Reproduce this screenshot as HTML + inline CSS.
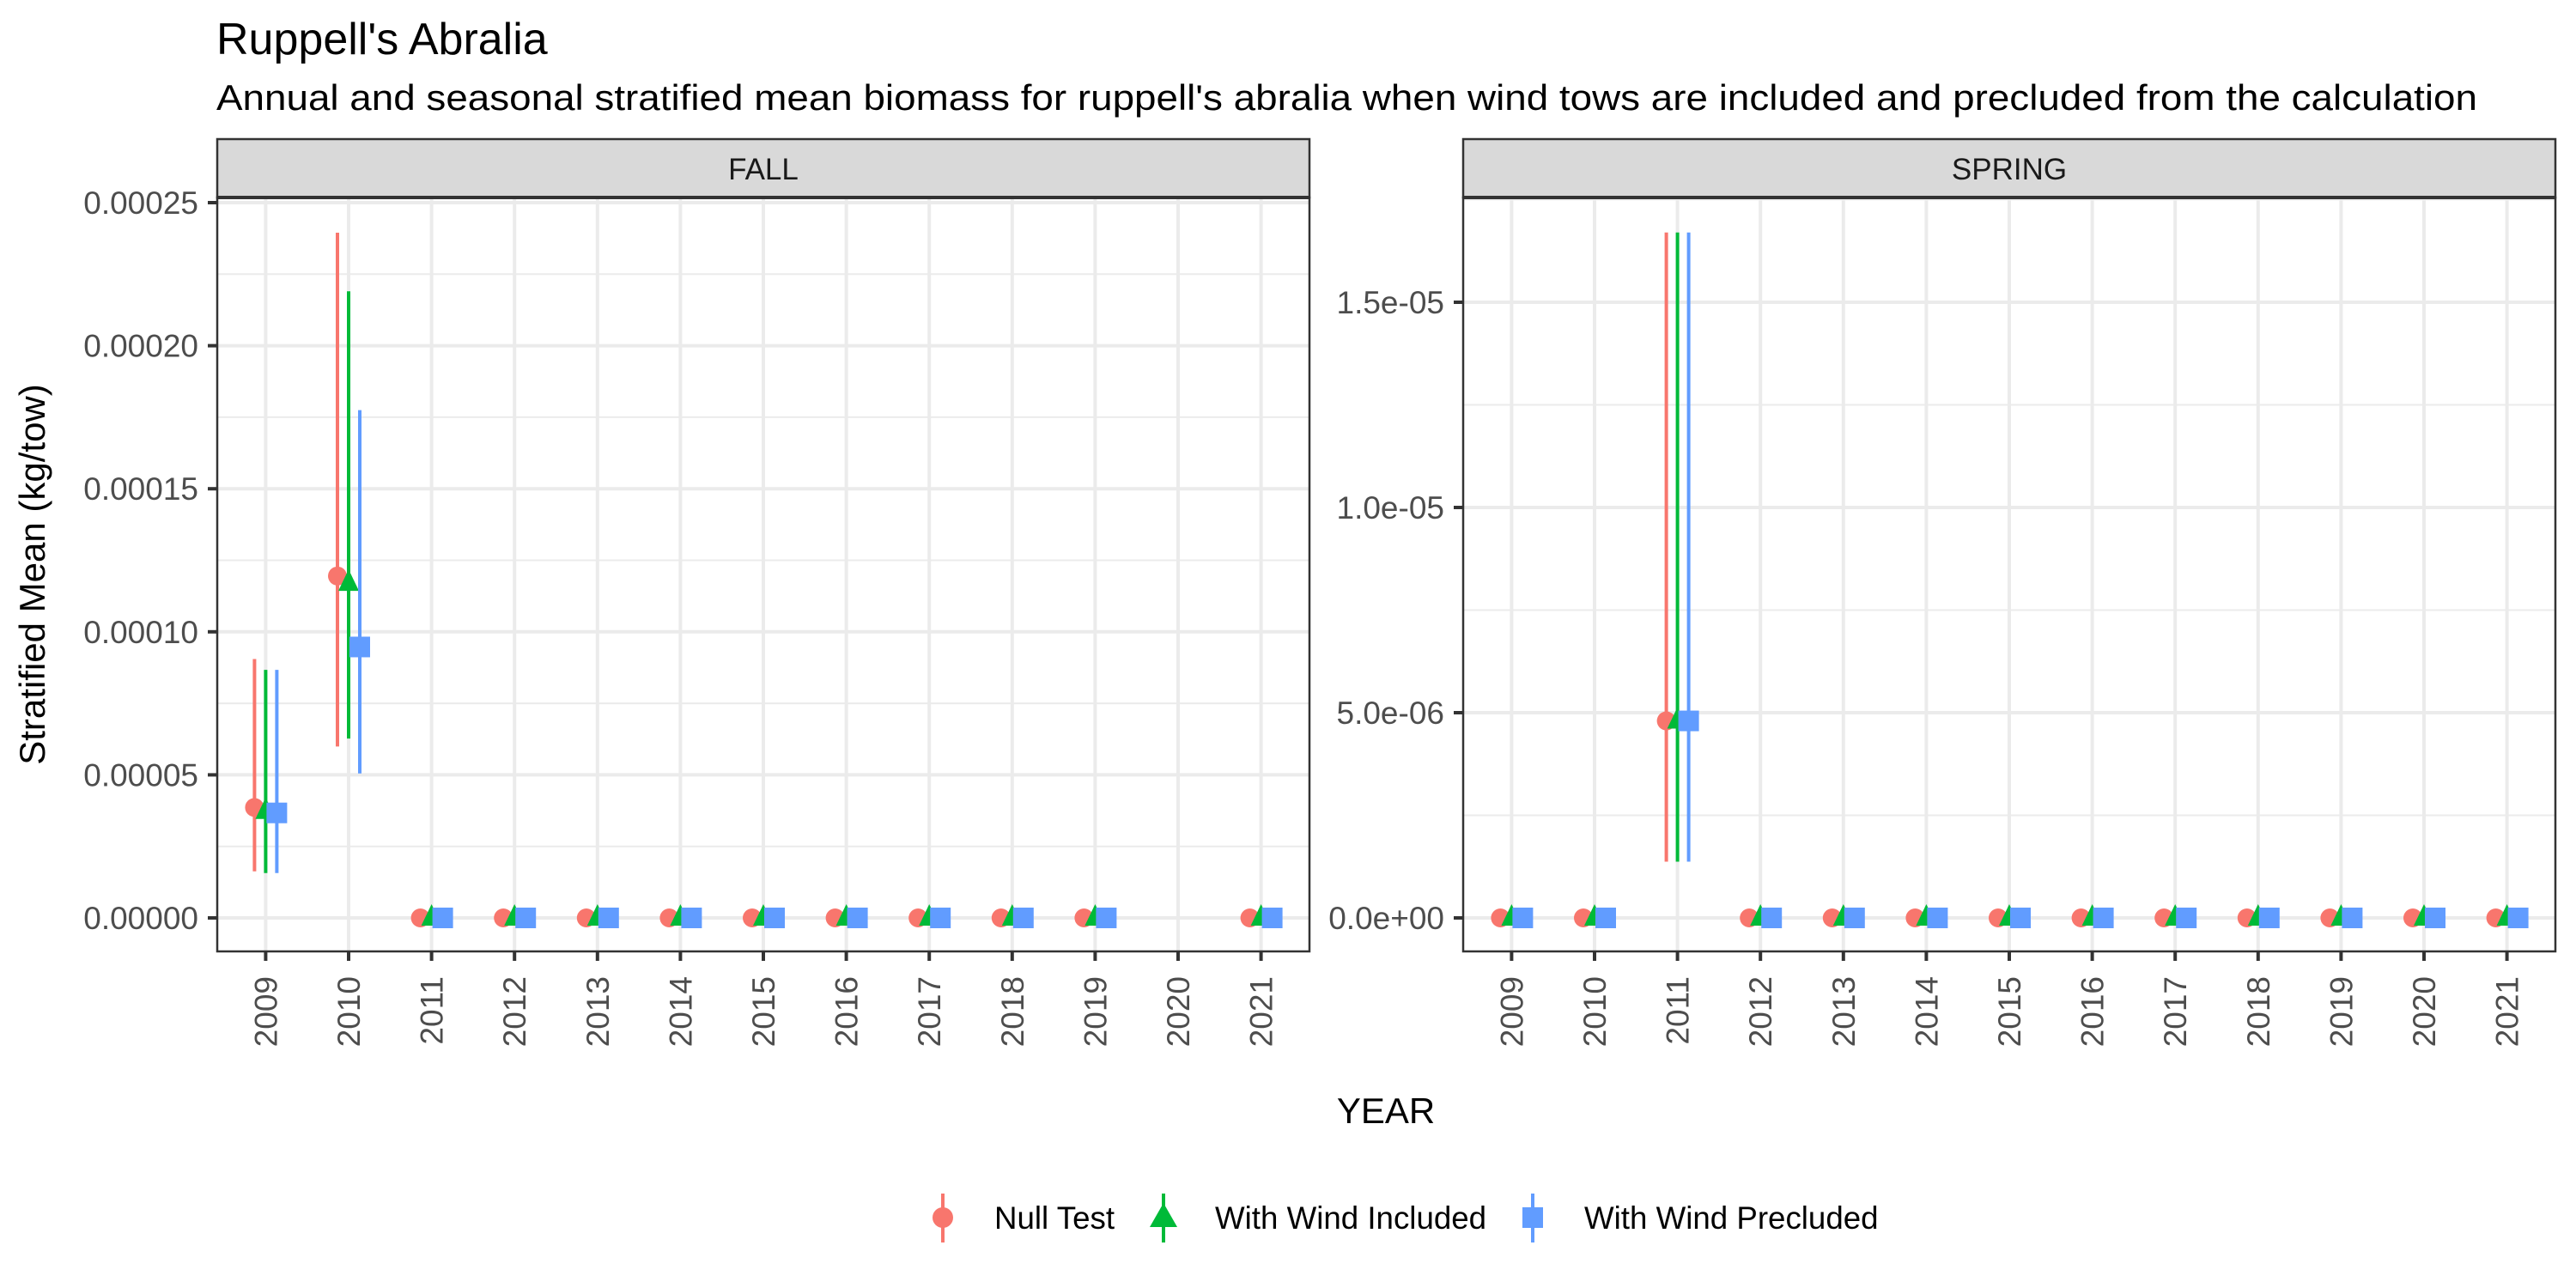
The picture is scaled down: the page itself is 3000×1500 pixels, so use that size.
<!DOCTYPE html>
<html><head><meta charset="utf-8"><style>
html,body{margin:0;padding:0;background:#fff;}
svg{display:block;font-family:"Liberation Sans",Arial,sans-serif;}
</style></head><body>
<svg id="chart" width="3000" height="1500" viewBox="0 0 3000 1500" xmlns="http://www.w3.org/2000/svg">
<rect x="0" y="0" width="3000" height="1500" fill="#fff"/>
<text x="252" y="63" font-size="52" fill="#000">Ruppell's Abralia</text>
<text x="252" y="128" font-size="42" fill="#000" textLength="2633" lengthAdjust="spacingAndGlyphs">Annual and seasonal stratified mean biomass for ruppell's abralia when wind tows are included and precluded from the calculation</text>
<text transform="translate(52,669) rotate(-90)" text-anchor="middle" font-size="42" fill="#000">Stratified Mean (kg/tow)</text>
<text x="1614" y="1308" text-anchor="middle" font-size="42" fill="#000">YEAR</text>
<g id="panels"></g>
<g id="legend"></g>
</svg>
<script>
const years = [2009,2010,2011,2012,2013,2014,2015,2016,2017,2018,2019,2020,2021];
const seriesNames = ["Null Test","With Wind Included","With Wind Precluded"];
// FALL data (null = missing)
const fallNull     = [0.0000386,0.0001195,0,0,0,0,0,0,0,0,0,null,0];
const fallNullLo   = [0.0000163,0.0000599,0,0,0,0,0,0,0,0,0,null,0];
const fallNullHi   = [0.0000905,0.0002395,0,0,0,0,0,0,0,0,0,null,0];
const fallIncl     = [0.0000373,0.000117,0,0,0,0,0,0,0,0,0,null,0];
const fallInclLo   = [0.0000157,0.0000627,0,0,0,0,0,0,0,0,0,null,0];
const fallInclHi   = [0.0000867,0.000219,0,0,0,0,0,0,0,0,0,null,0];
const fallPrec     = [0.0000367,0.0000947,0,0,0,0,0,0,0,0,0,null,0];
const fallPrecLo   = [0.0000157,0.0000505,0,0,0,0,0,0,0,0,0,null,0];
const fallPrecHi   = [0.0000867,0.0001775,0,0,0,0,0,0,0,0,0,null,0];
// SPRING data
const springNull   = [0,0,4.8e-6,0,0,0,0,0,0,0,0,0,0];
const springNullLo = [0,0,1.37e-6,0,0,0,0,0,0,0,0,0,0];
const springNullHi = [0,0,1.67e-5,0,0,0,0,0,0,0,0,0,0];
const springIncl   = [0,0,4.8e-6,0,0,0,0,0,0,0,0,0,0];
const springInclLo = [0,0,1.37e-6,0,0,0,0,0,0,0,0,0,0];
const springInclHi = [0,0,1.67e-5,0,0,0,0,0,0,0,0,0,0];
const springPrec   = [0,0,4.8e-6,0,0,0,0,0,0,0,0,0,0];
const springPrecLo = [0,0,1.37e-6,0,0,0,0,0,0,0,0,0,0];
const springPrecHi = [0,0,1.67e-5,0,0,0,0,0,0,0,0,0,0];
const fallTicks = [0,0.00005,0.0001,0.00015,0.0002,0.00025];
const fallTickLabels = ["0.00000","0.00005","0.00010","0.00015","0.00020","0.00025"];
const springTicks = [0,5e-6,1e-5,1.5e-5];
const springTickLabels = ["0.0e+00","5.0e-06","1.0e-05","1.5e-05"];

const NS="http://www.w3.org/2000/svg";
const colors=["#F8766D","#00BA38","#619CFF"];
function mk(tag,attrs,parent){const e=document.createElementNS(NS,tag);for(const k in attrs)e.setAttribute(k,attrs[k]);parent.appendChild(e);return e;}
const panelsG=document.getElementById('panels');

function drawPanel(cfg){
  const g=mk('g',{},panelsG);
  
  
  const L=cfg.left,R=cfg.right,T=230,B=1108,y0=1069;
  const x=i=>(L+R)/2+(i-6)*96.6;
  const y=v=>y0-v*cfg.pxPerUnit;
  mk('rect',{x:L,y:T,width:R-L,height:B-T,fill:'#fff'},g);
  for(let k=0;k<cfg.ticks.length;k++){
    const mv=cfg.ticks[k]+(cfg.ticks[1]-cfg.ticks[0])/2;
    const yy=y(mv); if(yy>T&&yy<B){const l=mk('line',{x1:L,x2:R,y1:yy,y2:yy,stroke:'#ebebeb','stroke-width':2},g);
    
    }
  }
  cfg.ticks.forEach((t,k)=>{const yy=y(t);
    const l=mk('line',{x1:L,x2:R,y1:yy,y2:yy,stroke:'#ebebeb','stroke-width':4},g);
    
    
    mk('line',{x1:L-11,x2:L,y1:yy,y2:yy,stroke:'#333','stroke-width':4},g);
    const tx=mk('text',{x:L-22,y:yy+13,'text-anchor':'end','font-size':37,fill:'#4d4d4d'},g);
    tx.textContent=cfg.tickLabels[k];
    
    
  });
  years.forEach((yr,i)=>{const xx=x(i);
    const l=mk('line',{x1:xx,x2:xx,y1:T,y2:B,stroke:'#ebebeb','stroke-width':4},g);
    
    
    mk('line',{x1:xx,x2:xx,y1:B,y2:B+11,stroke:'#333','stroke-width':4},g);
    const tx=mk('text',{transform:`translate(${xx+13},${B+29}) rotate(-90)`,'text-anchor':'end','font-size':37,fill:'#4d4d4d'},g);
    tx.textContent=yr;
    
    
  });
  const series=cfg.series;
  series.forEach((s,si)=>{
    const off=(si-1)*13;
    s.v.forEach((v,i)=>{
      if(v===null)return;
      const cx=x(i)+off;
      const ln=mk('line',{x1:cx,x2:cx,y1:y(s.lo[i]),y2:y(s.hi[i]),stroke:colors[si],'stroke-width':4},g);
      
      
      const cy=y(v);let p;
      if(si===0){p=mk('circle',{cx:cx,cy:cy,r:11,fill:colors[0]},g);}
      else if(si===1){p=mk('polygon',{points:`${cx-12},${cy+9} ${cx+12},${cy+9} ${cx},${cy-16}`,fill:colors[1]},g);}
      else {p=mk('rect',{x:cx-12,y:cy-12,width:24,height:24,fill:colors[2]},g);}
      
      
    });
  });
  mk('rect',{x:L,y:T,width:R-L,height:B-T,fill:'none',stroke:'#333','stroke-width':2.5},g);
  const st=mk('rect',{x:L,y:162,width:R-L,height:68,fill:'#d9d9d9',stroke:'#333','stroke-width':2.5},g);
  
  
  mk('line',{x1:L,x2:R,y1:230,y2:230,stroke:'#333','stroke-width':4},g);
  const sl=mk('text',{x:(L+R)/2,y:209,'text-anchor':'middle','font-size':35,fill:'#1a1a1a'},g);
  sl.textContent=cfg.label;
  
  
}
drawPanel({name:'fall',label:'FALL',left:253,right:1525,pxPerUnit:166.6/0.00005,ticks:fallTicks,tickLabels:fallTickLabels,
  series:[{v:fallNull,lo:fallNullLo,hi:fallNullHi},{v:fallIncl,lo:fallInclLo,hi:fallInclHi},{v:fallPrec,lo:fallPrecLo,hi:fallPrecHi}]});
drawPanel({name:'spring',label:'SPRING',left:1704,right:2976,pxPerUnit:239/5e-6,ticks:springTicks,tickLabels:springTickLabels,
  series:[{v:springNull,lo:springNullLo,hi:springNullHi},{v:springIncl,lo:springInclLo,hi:springInclHi},{v:springPrec,lo:springPrecLo,hi:springPrecHi}]});

const lg=document.getElementById('legend');
const keyX=[1098,1355,1785];
seriesNames.forEach((n,i)=>{
  const g=mk('g',{},lg);
  
  
  const cx=keyX[i],cy=1418;
  mk('line',{x1:cx,x2:cx,y1:1390,y2:1447,stroke:colors[i],'stroke-width':4},g);
  if(i===0)mk('circle',{cx:cx,cy:cy,r:12,fill:colors[0]},g);
  else if(i===1)mk('polygon',{points:`${cx-16},${cy+11} ${cx+16},${cy+11} ${cx},${cy-17}`,fill:colors[1]},g);
  else mk('rect',{x:cx-12,y:cy-12,width:24,height:24,fill:colors[2]},g);
  const t=mk('text',{x:cx+60,y:1431,'font-size':36.7,fill:'#000'},g);
  t.textContent=n;
});
</script>
</body></html>
